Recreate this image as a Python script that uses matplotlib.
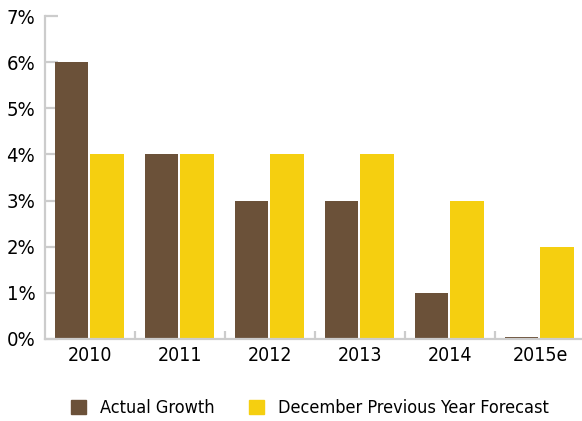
import numpy as np
import matplotlib.pyplot as plt
from matplotlib.patches import Patch

years = ["2010", "2011", "2012", "2013", "2014", "2015e"]
actual = [6, 4, 3, 3, 1, 0.05]
forecast = [4, 4, 4, 4, 3, 2]
y_ticks = [0, 1, 2, 3, 4, 5, 6, 7]

brown = "#6b5139"
yellow = "#f5cf10"
grid_gray = "#cccccc"

plt.rcParams['font.family'] = ['Liberation Sans Narrow', 'DejaVu Sans']
plt.rcParams['font.stretch'] = 'condensed'

fig = plt.figure(figsize=(5.82, 4.21), dpi=100)
ax = fig.add_axes([45 / 582, 82 / 421, 540 / 582, 323 / 421])
ax.set_axisbelow(True)

x = np.arange(len(years))
w = 0.37
ax.bar(x - 0.205, actual, w, color=brown)
ax.bar(x + 0.19, forecast, w, color=yellow)

ax.set_xlim(-0.5, 5.5)
ax.set_ylim(0, 7)

for s in ["top", "right"]:
    ax.spines[s].set_visible(False)
for s in ["left", "bottom"]:
    ax.spines[s].set_color(grid_gray)
    ax.spines[s].set_linewidth(1.6)

ax.set_yticks(y_ticks)
ax.set_yticklabels([f"{v}%" for v in y_ticks])
ax.tick_params(axis="y", direction="in", length=9, width=1.6, color=grid_gray,
               labelsize=14.5, pad=7)

# year labels centred, tick marks on the boundaries between groups
ax.set_xticks(x)
ax.set_xticklabels(years)
ax.tick_params(axis="x", which="major", length=0, labelsize=14, pad=5)
ax.set_xticks(x[:-1] + 0.5, minor=True)
ax.tick_params(axis="x", which="minor", direction="in", length=6, width=1.6,
               color=grid_gray)

handles = [Patch(color=brown, label="Actual Growth"),
           Patch(color=yellow, label="December Previous Year Forecast")]
fig.legend(handles=handles, loc="center left", bbox_to_anchor=(55 / 582, 13 / 421),
           ncol=2, frameon=False, fontsize=13, handlelength=0.83,
           handleheight=0.83, handletextpad=0.78, columnspacing=1.9)

fig.savefig("out.png", dpi=100)
